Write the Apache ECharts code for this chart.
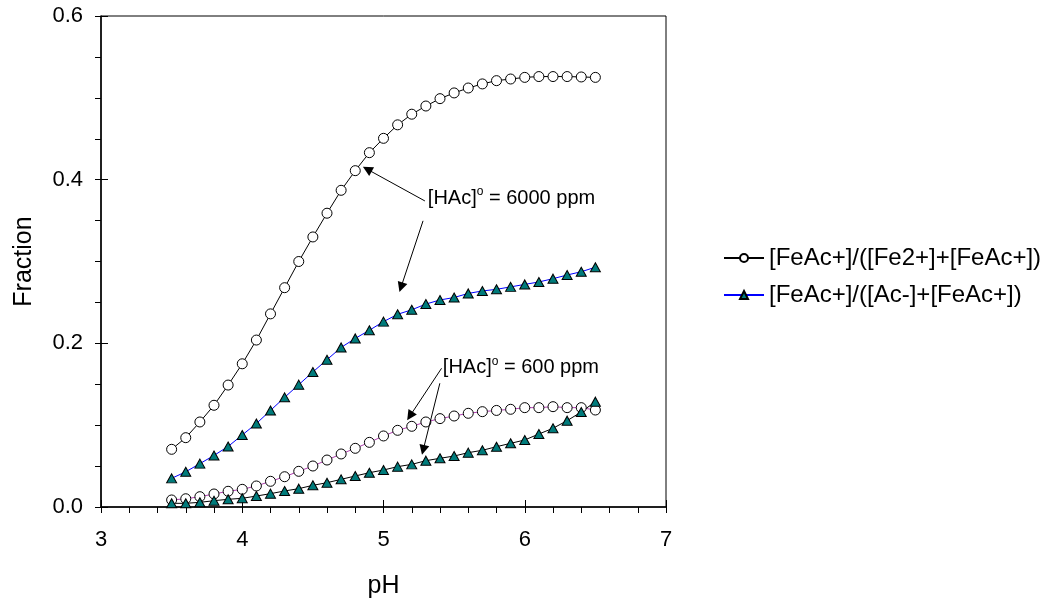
<!DOCTYPE html>
<html><head><meta charset="utf-8">
<script src="https://cdn.jsdelivr.net/npm/echarts@6/dist/echarts.min.js"></script>
<style>html,body{margin:0;padding:0;background:#fff}#c{width:1047px;height:604px}</style>
</head><body><div id="c"></div><script>
const pH = [3.5,3.6,3.7,3.8,3.9,4.0,4.1,4.2,4.3,4.4,4.5,4.6,4.7,4.8,4.9,5.0,5.1,5.2,5.3,5.4,5.5,5.6,5.7,5.8,5.9,6.0,6.1,6.2,6.3,6.4,6.5];
const fe6000 = [0.0705,0.0847,0.1039,0.1243,0.149,0.175,0.204,0.236,0.268,0.300,0.330,0.359,0.387,0.411,0.433,0.4505,0.467,0.480,0.490,0.499,0.506,0.512,0.517,0.521,0.523,0.525,0.526,0.526,0.526,0.5255,0.525];
const ac6000 = [0.035,0.043,0.053,0.063,0.074,0.088,0.102,0.118,0.134,0.1495,0.165,0.180,0.195,0.206,0.216,0.2265,0.2355,0.241,0.248,0.253,0.256,0.261,0.264,0.266,0.269,0.272,0.275,0.279,0.2835,0.2875,0.293];
const fe600 = [0.0086,0.0101,0.0126,0.0159,0.0192,0.0216,0.0257,0.0314,0.037,0.0436,0.0501,0.0574,0.0648,0.0717,0.079,0.0868,0.0937,0.0986,0.1039,0.108,0.1112,0.1145,0.1165,0.118,0.1194,0.1214,0.1214,0.1226,0.1214,0.1214,0.1185];
const ac600 = [0.0045,0.0045,0.0057,0.0077,0.0094,0.0106,0.0134,0.0163,0.0196,0.0224,0.0265,0.0297,0.0338,0.0379,0.0419,0.0452,0.0493,0.0521,0.0566,0.0595,0.0623,0.0664,0.0693,0.0737,0.0778,0.0819,0.0892,0.0962,0.1055,0.1161,0.1287];
const nameFe = '[FeAc+]/([Fe2+]+[FeAc+])';
const nameAc = '[FeAc+]/([Ac-]+[FeAc+])';
const arrowLines = [
  [[5.293,0.3740],[4.885,0.4127]],
  [[5.280,0.3497],[5.124,0.2685]],
  [[5.411,0.1695],[5.187,0.1112]],
  [[5.399,0.1512],[5.281,0.0697]]
];
const notes = [
  {ppm:'6000', at:[5.314,0.3776]},
  {ppm:'600', at:[5.42,0.1699]}
];

const FONT = "'Liberation Sans', Arial, sans-serif";
const pair = (xs, ys) => xs.map((x,i)=>[x, ys[i]]);

const circleStyle = {color:'#ffffff', borderColor:'#000000', borderWidth:1};
const triStyle = {color:'#007b7b', borderColor:'#000000', borderWidth:1};

const chart = echarts.init(document.getElementById('c'), null, {renderer:'canvas'});
chart.setOption({
  animation:false,
  backgroundColor:'#ffffff',
  textStyle:{fontFamily:FONT},
  grid:{left:101, right:381, top:16, bottom:97, show:true, borderColor:'#000', borderWidth:1, backgroundColor:'transparent'},
  legend:{
    orient:'vertical', left:718, top:241, itemWidth:40, itemHeight:10, itemGap:13,
    data:[nameFe, nameAc],
    textStyle:{fontSize:24, color:'#000', fontFamily:FONT}
  },
  xAxis:[{
    type:'value', min:3, max:7, interval:1,
    name:'pH', nameLocation:'middle', nameGap:67,
    nameTextStyle:{fontSize:25, color:'#000', fontFamily:FONT},
    axisLine:{lineStyle:{color:'#000', width:1.5}},
    axisTick:{length:6, lineStyle:{color:'#000', width:1}},
    minorTick:{show:true, splitNumber:5, length:6, lineStyle:{color:'#000', width:1}},
    axisLabel:{fontSize:22, color:'#000', margin:22, fontFamily:FONT},
    splitLine:{show:false}
  },{
    type:'value', min:3, max:7, interval:1, position:'bottom',
    axisLine:{show:false}, axisLabel:{show:false}, splitLine:{show:false},
    axisTick:{inside:true, length:7, lineStyle:{color:'#000', width:1}}
  }],
  yAxis:[{
    type:'value', min:0, max:0.6, interval:0.2,
    name:'Fraction', nameLocation:'middle', nameGap:64, nameRotate:90,
    nameTextStyle:{fontSize:25, color:'#000', fontFamily:FONT},
    axisLine:{lineStyle:{color:'#000', width:1.5}},
    axisTick:{length:6, lineStyle:{color:'#000', width:1}},
    minorTick:{show:true, splitNumber:4, length:6, lineStyle:{color:'#000', width:1}},
    axisLabel:{fontSize:22, color:'#000', margin:18, fontFamily:FONT, formatter:v=>v.toFixed(1)},
    splitLine:{show:false}
  },{
    type:'value', min:0, max:0.6, interval:0.2, position:'left',
    axisLine:{show:false}, axisLabel:{show:false}, splitLine:{show:false},
    axisTick:{inside:true, length:7, lineStyle:{color:'#000', width:1}}
  }],
  series:[
    {name:nameFe, type:'line', data:pair(pH, fe6000), symbol:'circle', symbolSize:10,
     lineStyle:{color:'#000', width:1}, itemStyle:circleStyle},
    {name:nameFe, type:'line', data:pair(pH, fe600), symbol:'circle', symbolSize:10,
     lineStyle:{color:'#b040b0', width:1}, itemStyle:circleStyle},
    {name:nameAc, type:'line', data:pair(pH, ac6000), symbol:'triangle', symbolSize:[10,9],
     lineStyle:{color:'#0000ff', width:1}, itemStyle:triStyle},
    {name:nameAc, type:'line', data:pair(pH, ac600), symbol:'triangle', symbolSize:[10,9],
     lineStyle:{color:'#000', width:1}, itemStyle:triStyle},
    {name:'annotations', type:'line', data:[], silent:true, z:5,
     markLine:{
       silent:true, animation:false, symbol:['none','triangle'], symbolSize:10,
       lineStyle:{color:'#000', width:1, type:'solid'}, itemStyle:{color:'#000'}, label:{show:false},
       data: arrowLines.map(l=>[{coord:l[0], symbol:'none'},{coord:l[1], symbol:'triangle', symbolSize:10}])
     },
     markPoint:{
       silent:true, animation:false, symbol:'circle', symbolSize:0,
       data: notes.map(n=>({coord:n.at, value:n.ppm})),
       label:{show:true, position:'right', distance:0,
         formatter:p=>'{a|[HAc]}{s|o}{a| = '+p.value+' ppm}',
         rich:{a:{fontSize:20, color:'#000', fontFamily:FONT, lineHeight:24},
               s:{fontSize:12, color:'#000', fontFamily:FONT, verticalAlign:'top', lineHeight:24}}}
     }}
  ]
});
</script></body></html>
